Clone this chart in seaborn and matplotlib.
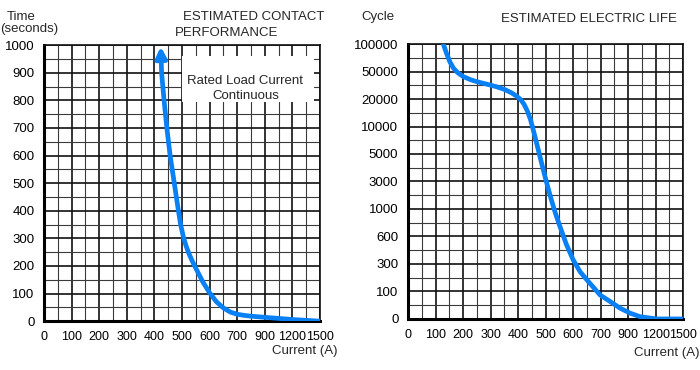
import numpy as np
import matplotlib
matplotlib.use("Agg")
import matplotlib.pyplot as plt
import matplotlib.ticker as mticker
import seaborn as sns

# axis tick values (both charts use evenly spaced, non-linear scales)
current_ticks = [0, 100, 200, 300, 400, 500, 600, 700, 900, 1200, 1500]
time_ticks = [0, 100, 200, 300, 400, 500, 600, 700, 800, 900, 1000]
cycle_ticks = [0, 100, 300, 600, 1000, 3000, 5000, 10000, 20000, 50000, 100000]

# estimated contact performance (current A, time s)
contact_current = [423, 426, 435, 445, 457, 472, 487, 495, 505, 515, 525, 538,
                   550, 575, 600, 625, 650, 675, 700, 750, 800, 900, 1050,
                   1200, 1350, 1500]
contact_time = [1000, 900, 800, 700, 600, 500, 400, 350, 305, 272, 245, 216,
                192, 143, 103, 70, 48, 33, 25, 21, 18, 14, 10,
                6, 3, 0]

# estimated electric life (current A, cycles)
life_current = [128, 140, 152, 165, 180, 200, 225, 250, 286, 320, 350, 375, 395,
                410, 422, 434, 445, 460, 475, 490, 505, 520, 535, 550, 575, 600,
                625, 650, 698, 770, 842, 921, 1032, 1212, 1500]
life_cycles = [100000, 82500, 67500, 56000, 48800, 44600, 41300, 38900, 36200,
               33500, 30500, 26900, 23000, 19700, 18000, 15500, 12500, 8400, 5400,
               3960, 2800, 1720, 944, 768, 516, 345, 244, 184, 87, 63, 39, 21, 8,
               0, 0]

CURVE = "#0a80f5"


def even_scale(ticks):
    pos = np.arange(len(ticks), dtype=float)
    fwd = lambda v: np.interp(v, ticks, pos)
    inv = lambda p: np.interp(p, pos, ticks)
    return fwd, inv


def style_axes(ax, xticks, yticks, xscale=None, yscale=None):
    if xscale:
        ax.set_xscale("function", functions=xscale)
    if yscale:
        ax.set_yscale("function", functions=yscale)
    ax.set_xlim(xticks[0], xticks[-1])
    ax.set_ylim(yticks[0], yticks[-1])
    ax.set_xticks(xticks)
    ax.set_xticklabels([str(t) for t in xticks])
    ax.set_yticks(yticks)
    ax.set_yticklabels([str(t) for t in yticks])
    xinv = xscale[1] if xscale else (lambda p: np.interp(p, np.arange(len(xticks)), xticks))
    yinv = yscale[1] if yscale else (lambda p: np.interp(p, np.arange(len(yticks)), yticks))
    ax.xaxis.set_minor_locator(mticker.FixedLocator(xinv(np.arange(0.5, len(xticks) - 1, 1))))
    ax.yaxis.set_minor_locator(mticker.FixedLocator(yinv(np.arange(0.5, len(yticks) - 1, 1))))
    ax.grid(which="major", color="#111111", lw=1.2)
    ax.grid(which="minor", color="#3a3a3a", lw=0.8)
    ax.set_axisbelow(True)
    ax.tick_params(which="major", direction="out", length=4, width=1.3,
                   colors="black", pad=3)
    ax.tick_params(axis="x", labelsize=9)
    ax.tick_params(axis="y", labelsize=9.5)
    ax.tick_params(which="minor", length=0)
    for side in ["top", "right"]:
        ax.spines[side].set_visible(True)
        ax.spines[side].set_linewidth(1.2)
        ax.spines[side].set_color("#111111")
    for side in ["left", "bottom"]:
        ax.spines[side].set_linewidth(2.2)
        ax.spines[side].set_color("black")
    ax.set_xlabel("")
    ax.set_ylabel("")


sns.set_style("white")
plt.rcParams["font.family"] = ["Liberation Sans", "DejaVu Sans"]

fig = plt.figure(figsize=(7, 3.7), dpi=100)
ax1 = fig.add_axes([0.063, 0.132, 0.394, 0.746])
ax2 = fig.add_axes([0.583, 0.138, 0.393, 0.743])

# left: contact performance
style_axes(ax1, current_ticks, time_ticks, xscale=even_scale(current_ticks))
sns.lineplot(x=contact_current[1:], y=contact_time[1:], ax=ax1, color=CURVE,
             lw=3.4, sort=False, solid_capstyle="round", solid_joinstyle="round",
             zorder=5)
ax1.annotate("", xy=(contact_current[0], contact_time[0] - 5),
             xytext=(contact_current[1], contact_time[1]),
             arrowprops=dict(arrowstyle="-|>", color=CURVE, lw=3.4,
                             mutation_scale=16, shrinkA=0, shrinkB=0), zorder=6)
ax1.add_patch(plt.Rectangle((0.5, 0.795), 0.478, 0.165, transform=ax1.transAxes,
                            facecolor="white", edgecolor="none", zorder=3))
ax1.text(0.73, 0.842, "Rated Load Current\nContinuous", transform=ax1.transAxes,
         ha="center", va="center", multialignment="center", fontsize=9.5,
         linespacing=1.35, zorder=4)

# right: electric life
style_axes(ax2, current_ticks, cycle_ticks, xscale=even_scale(current_ticks),
           yscale=even_scale(cycle_ticks))
sns.lineplot(x=life_current, y=life_cycles, ax=ax2, color=CURVE, lw=3.4,
             sort=False, solid_capstyle="round", solid_joinstyle="round", zorder=5)

# labels and titles
fig.text(7 / 700, 1 - 17 / 370, "Time", fontsize=9.5, ha="left", va="center")
fig.text(0.5 / 700, 1 - 29 / 370, "(seconds)", fontsize=9.5, ha="left", va="center")
fig.text(183 / 700, 1 - 17 / 370, "ESTIMATED CONTACT", fontsize=9.5, ha="left", va="center")
fig.text(175 / 700, 1 - 33 / 370, "PERFORMANCE", fontsize=9.5, ha="left", va="center")
fig.text(337 / 700, 1 - 351 / 370, "Current (A)", fontsize=9.5, ha="right", va="center")

fig.text(378 / 700, 1 - 17 / 370, "Cycle", fontsize=9.5, ha="center", va="center")
fig.text(501 / 700, 1 - 19 / 370, "ESTIMATED ELECTRIC LIFE", fontsize=9.5, ha="left", va="center")
fig.text(699 / 700, 1 - 353 / 370, "Current (A)", fontsize=9.5, ha="right", va="center")

fig.savefig("out.png", dpi=100)
